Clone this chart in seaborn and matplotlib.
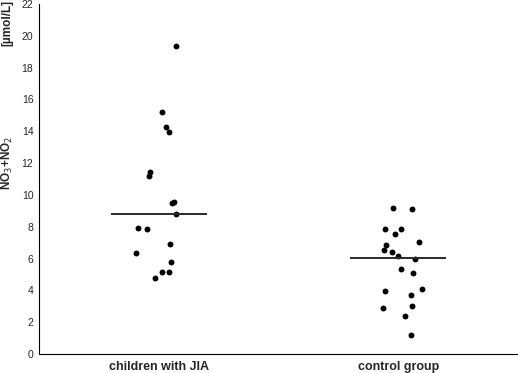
import matplotlib
matplotlib.use("Agg")
import matplotlib.pyplot as plt
import seaborn as sns
import numpy as np
import pandas as pd

categories = ["children with JIA", "control group"]

jia_values = [19.33, 15.23, 14.25, 13.96, 11.47, 11.18, 9.57, 9.51, 8.80,
              7.90, 7.84, 6.92, 6.38, 5.81, 5.18, 5.18, 4.76]
jia_jitter = [0.071, 0.015, 0.032, 0.044, -0.037, -0.042, 0.062, 0.057, 0.072,
              -0.086, -0.051, 0.047, -0.094, 0.053, 0.015, 0.044, -0.014]

ctrl_values = [9.17, 9.09, 7.84, 7.84, 7.57, 7.07, 6.88, 6.52, 6.44, 6.16,
               5.96, 5.33, 5.12, 4.08, 3.99, 3.72, 3.03, 2.90, 2.40, 1.21]
ctrl_jitter = [-0.024, 0.057, -0.057, 0.010, -0.014, 0.088, -0.051, -0.058, -0.028, 0.0,
               0.072, 0.010, 0.063, 0.101, -0.057, 0.053, 0.057, -0.065, 0.028, 0.053]

yticks = list(range(0, 23, 2))

sns.set_style("white")
plt.rcParams['font.family'] = ['Liberation Sans', 'DejaVu Sans']

rows = []
for i, (vals, jit) in enumerate([(jia_values, jia_jitter), (ctrl_values, ctrl_jitter)]):
    for v, j in zip(vals, jit):
        rows.append({"group": categories[i], "pos": i + j, "value": v})
df = pd.DataFrame(rows)

fig = plt.figure(figsize=(5.18, 3.73), dpi=100)
ax = fig.add_axes([39 / 518, 19 / 373, 1 - 39 / 518, 350 / 373])

sns.scatterplot(data=df, x="pos", y="value", color="black", s=18,
                edgecolor="black", linewidth=0, ax=ax, legend=False)

for i, vals in enumerate([jia_values, ctrl_values]):
    m = np.median(vals)
    ax.hlines(m, i - 0.2, i + 0.2, color="#2a2a2a", linewidth=1.4)

ax.set_xlim(-0.5, 1.5)
ax.set_ylim(0, 22)
ax.set_xticks([0, 1])
ax.set_xticklabels(categories, fontweight="bold", fontsize=9)
ax.set_yticks(yticks)
ax.set_yticklabels([str(t) for t in yticks], fontsize=7.5)
ax.tick_params(axis="both", direction="in", length=2, width=0.6, color="black")
ax.tick_params(axis="y", pad=4)
ax.tick_params(axis="x", pad=5)
ax.set_xlabel("")
ax.set_ylabel("")
for side in ["top", "right"]:
    ax.spines[side].set_visible(False)
for side in ["left", "bottom"]:
    ax.spines[side].set_color("black")
    ax.spines[side].set_linewidth(0.8)

fig.text(7.5 / 518, 1 - 163 / 373, r"NO$_3$+NO$_2$", rotation=90, ha="center", va="center",
         fontsize=8.5, fontweight="bold")
fig.text(7 / 518, 1 - 0 / 373, "[µmol/L]", rotation=90, ha="center", va="top",
         fontsize=8.5, fontweight="bold")

fig.savefig("out.png", dpi=100)
